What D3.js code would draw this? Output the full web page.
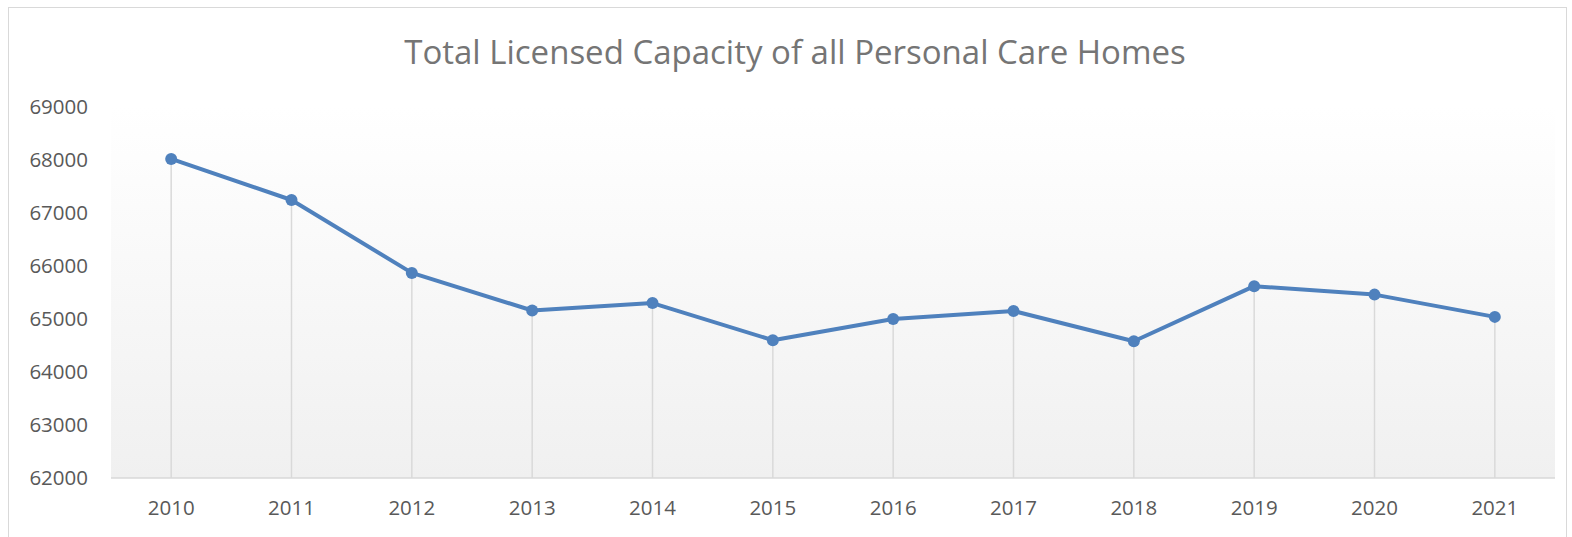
<!DOCTYPE html>
<html>
<head>
<meta charset="utf-8">
<script src="https://cdn.jsdelivr.net/npm/d3@7/dist/d3.min.js"></script>
<style>
  body { margin: 0; background: #fff; }
  svg { display: block; }
</style>
</head>
<body>
<div id="chart"></div>
<script>
var years = ["2010","2011","2012","2013","2014","2015","2016","2017","2018","2019","2020","2021"]
var capacity = [68020, 67245, 65870, 65160, 65300, 64600, 65000, 65150, 64580, 65620, 65460, 65040]
var yTicks = [62000, 63000, 64000, 65000, 66000, 67000, 68000, 69000]

var width = 1572
var height = 537
var margin = {top: 107, right: 17, bottom: 59, left: 111}

var svg = d3.select("#chart")
    .append("svg")
        .attr("width", width)
        .attr("height", height)

// outer frame
svg.append("rect")
    .attr("x", 8.5)
    .attr("y", 7.5)
    .attr("width", width - 14)
    .attr("height", height)
    .attr("fill", "#fff")
    .attr("stroke", "#d9d9d9")
    .attr("stroke-width", 1)

// plot background gradient
var grad = svg.append("defs").append("linearGradient")
    .attr("id", "bg")
    .attr("x1", 0).attr("y1", 0).attr("x2", 0).attr("y2", 1)
grad.append("stop").attr("offset", "0%").attr("stop-color", "#ffffff")
grad.append("stop").attr("offset", "100%").attr("stop-color", "#f0f0f0")

var x = d3.scaleBand()
    .domain(years)
    .range([margin.left, width - margin.right])

var y = d3.scaleLinear()
    .domain([62000, 69000])
    .range([height - margin.bottom, margin.top])

svg.append("rect")
    .attr("x", margin.left)
    .attr("y", margin.top)
    .attr("width", width - margin.right - margin.left)
    .attr("height", y(62000) - margin.top)
    .attr("fill", "url(#bg)")

// title
svg.append("text")
    .attr("x", 795)
    .attr("y", 64)
    .attr("text-anchor", "middle")
    .style("font-family", "'Open Sans', sans-serif")
    .style("font-size", "33px")
    .style("fill", "#757575")
    .text("Total Licensed Capacity of all Personal Care Homes")

// drop lines
svg.append("g")
    .selectAll("line")
    .data(capacity)
    .enter()
    .append("line")
        .attr("x1", (d, i) => x(years[i]) + x.bandwidth() / 2)
        .attr("x2", (d, i) => x(years[i]) + x.bandwidth() / 2)
        .attr("y1", d => y(d))
        .attr("y2", y(62000))
        .attr("stroke", "#d9d9d9")
        .attr("stroke-width", 1.5)

// x axis line
svg.append("line")
    .attr("x1", margin.left)
    .attr("x2", width - margin.right)
    .attr("y1", y(62000))
    .attr("y2", y(62000))
    .attr("stroke", "#d9d9d9")
    .attr("stroke-width", 1.5)

// y labels
svg.append("g")
    .selectAll("text")
    .data(yTicks)
    .enter()
    .append("text")
        .attr("x", 88)
        .attr("y", d => y(d))
        .attr("dy", "0.35em")
        .attr("text-anchor", "end")
        .style("font-family", "'Open Sans', sans-serif")
        .style("font-size", "20.5px")
        .style("fill", "#595959")
        .text(d => d)

// x labels
svg.append("g")
    .selectAll("text")
    .data(years)
    .enter()
    .append("text")
        .attr("x", d => x(d) + x.bandwidth() / 2)
        .attr("y", 508)
        .attr("dy", "0.35em")
        .attr("text-anchor", "middle")
        .style("font-family", "'Open Sans', sans-serif")
        .style("font-size", "20.5px")
        .style("fill", "#595959")
        .text(d => d)

// series line
var line = d3.line()
    .x((d, i) => x(years[i]) + x.bandwidth() / 2)
    .y(d => y(d))

svg.append("path")
    .datum(capacity)
    .attr("d", line)
    .attr("fill", "none")
    .attr("stroke", "#4f81bd")
    .attr("stroke-width", 4)
    .attr("stroke-linejoin", "round")

svg.append("g")
    .selectAll("circle")
    .data(capacity)
    .enter()
    .append("circle")
        .attr("cx", (d, i) => x(years[i]) + x.bandwidth() / 2)
        .attr("cy", d => y(d))
        .attr("r", 6)
        .attr("fill", "#4f81bd")
</script>
</body>
</html>
